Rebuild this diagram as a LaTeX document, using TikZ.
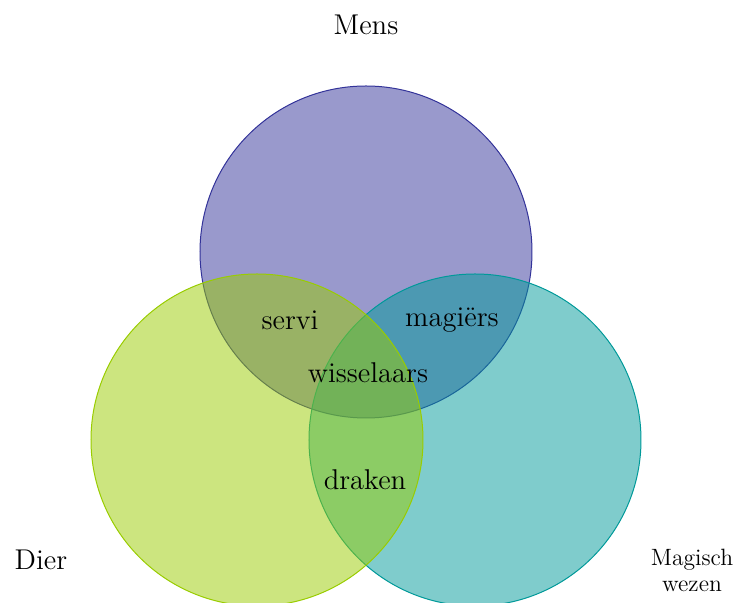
\documentclass[tikz,border=0pt]{standalone}
\usepackage{tikz}
\usetikzlibrary{positioning}

\definecolor{mensblue}{HTML}{333399}
\definecolor{dierlime}{HTML}{99CC00}
\definecolor{magteal}{HTML}{009999}

\begin{document}
\begin{tikzpicture}[
    x=0.5pt, y=-0.5pt,
    % Set styles
    setbase/.style={circle, minimum size=166pt, inner sep=0pt, fill opacity=0.5, line width=0.5pt},
    setmens/.style={setbase, draw=mensblue, fill=mensblue},
    setdier/.style={setbase, draw=dierlime, fill=dierlime},
    setmagisch/.style={setbase, draw=magteal, fill=magteal},
    % Label styles
    setlabel/.style={font=\fontsize{14.3}{17}\selectfont, inner sep=0pt},
    zonelabel/.style={font=\fontsize{14.3}{17}\selectfont, inner sep=0pt},
    smalllabel/.style={font=\fontsize{11.8}{13}\selectfont, align=center, inner sep=0pt}
]
\useasboundingbox (0,0) rectangle (736,603);

% Sets
\node[setmens] (mens) at (366,252) {};
\node[setmagisch] (magisch) at (475,440) {};
\node[setdier] (dier) at (257,440) {};

% Set names
\node[setlabel] (mensname) at (366,25) {Mens};
\node[setlabel] (diername) at (41,560) {Dier};
\node[smalllabel] (magischname) at (692,570) {Magisch\\wezen};

% Overlaps
\node[zonelabel] (servi) at (290,320) {servi};
\node[zonelabel] (magiers) at (452,320) {magi\"ers};
\node[zonelabel] (wisselaars) at (368,373) {wisselaars};
\node[zonelabel] (draken) at (365,480) {draken};

\end{tikzpicture}
\end{document}
